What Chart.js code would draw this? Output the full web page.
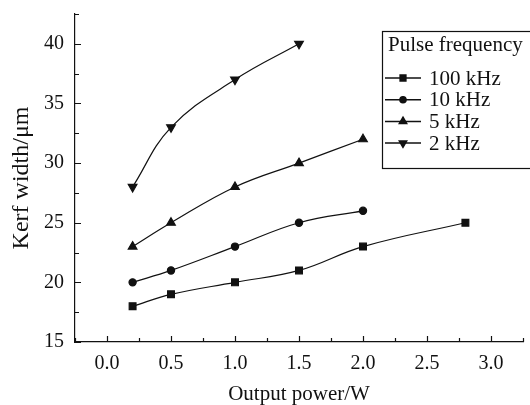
<!DOCTYPE html>
<html lang="en">
  <head>
    <meta charset="UTF-8">
    <title>Kerf width</title>
    <script src="https://cdn.jsdelivr.net/npm/chart.js"></script>
    <style>
      body { margin: 0; background: #fff; }
    </style>
  </head>
  <body>
    <canvas id="chart" width="530" height="405"></canvas>
    <script>
        // data
        const power100 = [0.2, 0.5, 1.0, 1.5, 2.0, 2.8];
        const kerf100 = [18, 19, 20, 21, 23, 25];
        const power10 = [0.2, 0.5, 1.0, 1.5, 2.0];
        const kerf10 = [20, 21, 23, 25, 26];
        const power5 = [0.2, 0.5, 1.0, 1.5, 2.0];
        const kerf5 = [23, 25, 28, 30, 32];
        const power2 = [0.2, 0.5, 1.0, 1.5];
        const kerf2 = [28, 33, 37, 40];

        const labels = ['100 kHz', '10 kHz', '5 kHz', '2 kHz'];
        const xMajor = [0, 0.5, 1, 1.5, 2, 2.5, 3];
        const yMajor = [15, 20, 25, 30, 35, 40];

        const serif = 'Liberation Serif, Times New Roman, serif';

        function pts(xs, ys) {
            return xs.map((x, i) => ({ x: x, y: ys[i] }));
        }

        function serie(label, xs, ys, style, rot, r) {
            return {
                label: label,
                data: pts(xs, ys),
                showLine: true,
                tension: 0.4,
                borderColor: '#111',
                backgroundColor: '#111',
                borderWidth: 1.2,
                pointStyle: style,
                rotation: rot,
                pointRadius: r,
                pointHoverRadius: r
            };
        }

        // inward tick marks on both axes
        const innerTicks = {
            id: 'innerTicks',
            afterDraw(chart) {
                const ctx = chart.ctx;
                const xs = chart.scales.x, ys = chart.scales.y;
                ctx.save();
                ctx.strokeStyle = '#111';
                ctx.lineWidth = 1.2;
                ctx.beginPath();
                for (let v = -0.25; v <= 3.25; v += 0.25) {
                    const px = Math.round(xs.getPixelForValue(v)) + 0.5;
                    const len = xMajor.some(m => Math.abs(m - v) < 1e-6) ? 6 : 4;
                    ctx.moveTo(px, ys.bottom);
                    ctx.lineTo(px, ys.bottom - len);
                }
                for (let v = 15; v <= 42.5; v += 2.5) {
                    const py = Math.round(ys.getPixelForValue(v)) + 0.5;
                    const len = yMajor.includes(v) ? 6 : 4;
                    ctx.moveTo(xs.left, py);
                    ctx.lineTo(xs.left + len, py);
                }
                ctx.stroke();
                ctx.restore();
            }
        };

        // boxed legend with title, line + marker samples
        const boxLegend = {
            id: 'boxLegend',
            afterDraw(chart) {
                const ctx = chart.ctx;
                ctx.save();
                ctx.strokeStyle = '#111';
                ctx.lineWidth = 1.2;
                ctx.strokeRect(382.5, 31.5, 160, 137);
                ctx.fillStyle = '#111';
                ctx.font = '21px ' + serif;
                ctx.textBaseline = 'alphabetic';
                ctx.fillText('Pulse frequency', 388, 51);
                chart.data.datasets.forEach((ds, i) => {
                    const y = 78 + i * 21.7;
                    ctx.beginPath();
                    ctx.moveTo(385, y);
                    ctx.lineTo(421, y);
                    ctx.lineWidth = 1.5;
                    ctx.stroke();
                    Chart.helpers.drawPoint(ctx, {
                        pointStyle: ds.pointStyle,
                        rotation: ds.rotation,
                        radius: ds.pointRadius * 0.85,
                        borderWidth: 1
                    }, 403, y);
                    ctx.fill();
                    ctx.fillText(ds.label, 429, y + 6.5);
                });
                ctx.restore();
            }
        };

        const config = {
            type: 'scatter',
            data: {
                datasets: [
                    serie(labels[0], power100, kerf100, 'rect', 0, 4.8),
                    serie(labels[1], power10, kerf10, 'circle', 0, 3.6),
                    serie(labels[2], power5, kerf5, 'triangle', 0, 5),
                    serie(labels[3], power2, kerf2, 'triangle', 180, 5)
                ]
            },
            options: {
                responsive: false,
                animation: false,
                layout: { padding: { top: 14, right: 7, left: 0, bottom: 0 } },
                plugins: {
                    legend: { display: false },
                    tooltip: { enabled: false }
                },
                scales: {
                    x: {
                        type: 'linear',
                        min: -0.25,
                        max: 3.25,
                        afterFit: s => { s.height = 63; s.paddingLeft = 0; s.paddingRight = 0; },
                        grid: { display: false, drawTicks: false },
                        border: { display: true, color: '#111', width: 1.2 },
                        ticks: {
                            stepSize: 0.25,
                            autoSkip: false,
                            maxRotation: 0,
                            padding: 10,
                            color: '#111',
                            font: { family: serif, size: 20 },
                            callback: v => xMajor.some(m => Math.abs(m - v) < 1e-6) ? Number(v).toFixed(1) : ''
                        },
                        title: {
                            display: true,
                            text: 'Output power/W',
                            color: '#111',
                            font: { family: serif, size: 21, lineHeight: 1 },
                            padding: { top: 0, bottom: 0 }
                        }
                    },
                    y: {
                        min: 15,
                        max: 42.5,
                        afterFit: s => { s.width = 75; s.paddingTop = 0; s.paddingBottom = 0; },
                        grid: { display: false, drawTicks: false },
                        border: { display: true, color: '#111', width: 1.2 },
                        ticks: {
                            stepSize: 5,
                            autoSkip: false,
                            padding: 11,
                            color: '#111',
                            font: { family: serif, size: 20 },
                            callback: v => yMajor.includes(v) ? String(v) : ''
                        },
                        title: {
                            display: true,
                            text: 'Kerf width/μm',
                            color: '#111',
                            font: { family: serif, size: 24, lineHeight: 1 },
                            padding: { top: 10, bottom: 0 }
                        }
                    }
                }
            },
            plugins: [innerTicks, boxLegend]
        };

        const chart = new Chart(document.getElementById('chart'), config);
    </script>
  </body>
</html>
